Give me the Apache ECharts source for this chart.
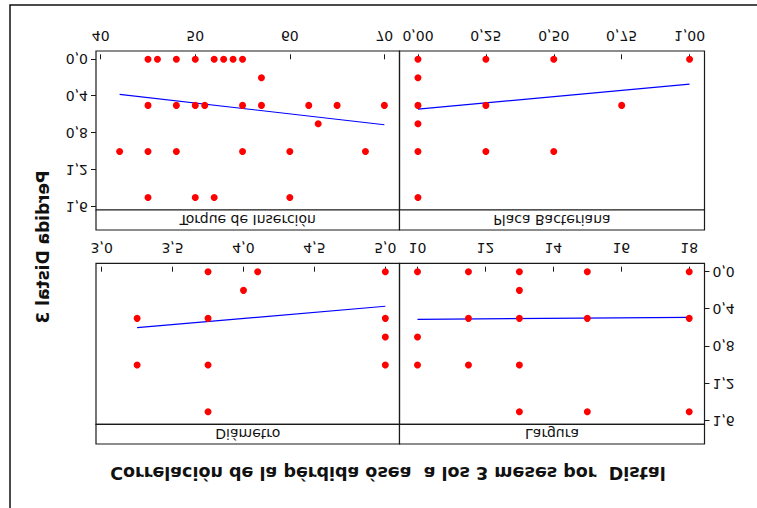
<!DOCTYPE html>
<html>
<head>
<meta charset="utf-8">
<script src="https://cdn.jsdelivr.net/npm/echarts@6/dist/echarts.min.js"></script>
<style>
  html, body { margin: 0; padding: 0; background: #fff; }
  #chart { width: 757px; height: 508px; transform: scaleY(-1); }
</style>
</head>
<body>
<div id="chart"></div>
<script>
// Bone loss at 3 months (Distal) against four implant variables
const panelNames = ['Diámetro', 'Largura', 'Torque de Inserción', 'Placa Bacteriana'];

const diametroPts = [[3.25,0.5],[3.25,1.0],[3.75,0],[3.75,0.5],[3.75,1.0],[3.75,1.5],
                     [4.0,0.2],[4.1,0],[5.0,0],[5.0,0.5],[5.0,0.7],[5.0,1.0]];
const larguraPts = [[10,0],[11.5,0],[13,0],[15,0],[18,0],[13,0.2],
                    [11.5,0.5],[13,0.5],[15,0.5],[18,0.5],[10,0.7],
                    [10,1.0],[11.5,1.0],[13,1.0],[13,1.5],[15,1.5],[18,1.5]];
const torquePts = [[45,0],[46,0],[48,0],[50,0],[52,0],[53,0],[54,0],[55,0],[57,0.2],
                   [45,0.5],[48,0.5],[50,0.5],[51,0.5],[55,0.5],[57,0.5],[62,0.5],[65,0.5],[70,0.5],
                   [63,0.7],[42,1.0],[45,1.0],[48,1.0],[55,1.0],[60,1.0],[68,1.0],
                   [45,1.5],[50,1.5],[52,1.5],[60,1.5]];
const placaPts = [[0,0],[0,0.2],[0,0.5],[0,0.7],[0,1.0],[0,1.5],
                  [0.25,0],[0.25,0.5],[0.25,1.0],[0.5,0],[0.5,1.0],[0.75,0.5],[1.0,0]];

// fitted regression lines (end points)
const diametroFit = [[3.25,0.60],[5.0,0.37]];
const larguraFit = [[10,0.51],[18,0.49]];
const torqueFit = [[42,0.38],[70,0.71]];
const placaFit = [[0,0.54],[1.0,0.27]];

// tick labels
const yTicks = [0, 0.4, 0.8, 1.2, 1.6];
const diametroTicks = [3.0, 3.5, 4.0, 4.5, 5.0];
const larguraTicks = [10, 12, 14, 16, 18];
const torqueTicks = [40, 50, 60, 70];
const placaTicks = [0, 0.25, 0.5, 0.75, 1.0];

const FONT = 'DejaVu Sans';
const comma = d => v => Number(v).toFixed(d).replace('.', ',');

const L = 96, MID = 399.5, R = 704.5;
const TOP_STRIP = 64, TOP_PANEL = 83.7, TOP_BOTTOM = 244.7;
const BOT_STRIP = 278, BOT_PANEL = 298, BOT_BOTTOM = 457;

const grids = [
  { left: L, top: TOP_PANEL, width: MID - L, height: TOP_BOTTOM - TOP_PANEL },
  { left: MID, top: TOP_PANEL, width: R - MID, height: TOP_BOTTOM - TOP_PANEL },
  { left: L, top: BOT_PANEL, width: MID - L, height: BOT_BOTTOM - BOT_PANEL },
  { left: MID, top: BOT_PANEL, width: R - MID, height: BOT_BOTTOM - BOT_PANEL }
].map(g => Object.assign(g, { show: true, borderColor: '#1a1a1a', borderWidth: 1.2, backgroundColor: 'transparent' }));

function xAxis(gi, min, max, ticks, dec) {
  return {
    type: 'value', gridIndex: gi, min: min, max: max, position: 'bottom',
    splitLine: { show: false }, axisLine: { show: false },
    axisTick: { show: true, inside: false, length: 5, customValues: ticks, lineStyle: { color: '#1a1a1a', width: 1 } },
    axisLabel: { show: true, customValues: ticks, margin: 8, formatter: comma(dec),
                 fontFamily: FONT, fontSize: 14, color: '#111' }
  };
}
function yAxis(gi, side) {
  const on = side !== null;
  return {
    type: 'value', gridIndex: gi, min: -0.09, max: 1.635, position: side || 'left',
    splitLine: { show: false }, axisLine: { show: false },
    axisTick: { show: on, length: 5, customValues: yTicks, lineStyle: { color: '#1a1a1a', width: 1 } },
    axisLabel: { show: on, customValues: yTicks, margin: 8, formatter: comma(1),
                 fontFamily: FONT, fontSize: 14, color: '#111' }
  };
}

const ptsList = [diametroPts, larguraPts, torquePts, placaPts];
const fitList = [diametroFit, larguraFit, torqueFit, placaFit];
const series = [];
ptsList.forEach((pts, i) => {
  series.push({ type: 'scatter', xAxisIndex: i, yAxisIndex: i, data: pts, symbol: 'circle',
                symbolSize: 7, itemStyle: { color: '#ff0000', opacity: 1 }, silent: true, z: 3 });
  series.push({ type: 'line', xAxisIndex: i, yAxisIndex: i, data: fitList[i], symbol: 'none',
                lineStyle: { color: '#0000ff', width: 1.2 }, silent: true, z: 2 });
});

function strip(x0, x1, y0, y1, label) {
  return [
    { type: 'rect', shape: { x: x0, y: y0, width: x1 - x0, height: y1 - y0 },
      style: { fill: '#fff', stroke: '#1a1a1a', lineWidth: 1.2 } },
    { type: 'text', x: (x0 + x1) / 2, y: (y0 + y1) / 2,
      style: { text: label, font: '14px "DejaVu Sans"', fill: '#111', align: 'center', verticalAlign: 'middle' } }
  ];
}

const graphics = [
  { type: 'rect', shape: { x: 10, y: -10, width: 760, height: 513 },
    style: { fill: 'none', stroke: '#111', lineWidth: 1.5 }, z: 10 },
  ...strip(L, MID, TOP_STRIP, TOP_PANEL, panelNames[0]),
  ...strip(MID, R, TOP_STRIP, TOP_PANEL, panelNames[1]),
  ...strip(L, MID, BOT_STRIP, BOT_PANEL, panelNames[2]),
  ...strip(MID, R, BOT_STRIP, BOT_PANEL, panelNames[3]),
  { type: 'text', x: 388, y: 35,
    style: { text: 'Correlación de la pérdida ósea  a los 3 meses por  Distal', font: 'bold 17.5px "DejaVu Sans"',
             fill: '#111', align: 'center', verticalAlign: 'middle' } },
  { type: 'text', x: 43, y: 261, rotation: Math.PI / 2,
    style: { text: 'Perdida Distal 3', font: 'bold 17px "DejaVu Sans"',
             fill: '#111', align: 'center', verticalAlign: 'middle' } }
];

const chart = echarts.init(document.getElementById('chart'), null, { renderer: 'svg' });
chart.setOption({
  animation: false,
  backgroundColor: '#fff',
  grid: grids,
  xAxis: [
    xAxis(0, 2.96, 5.10, diametroTicks, 1),
    xAxis(1, 9.47, 18.45, larguraTicks, 0),
    xAxis(2, 39.5, 71.6, torqueTicks, 0),
    xAxis(3, -0.068, 1.055, placaTicks, 2)
  ],
  yAxis: [yAxis(0, null), yAxis(1, 'right'), yAxis(2, 'left'), yAxis(3, null)],
  series: series,
  graphic: graphics
});
</script>
</body>
</html>
